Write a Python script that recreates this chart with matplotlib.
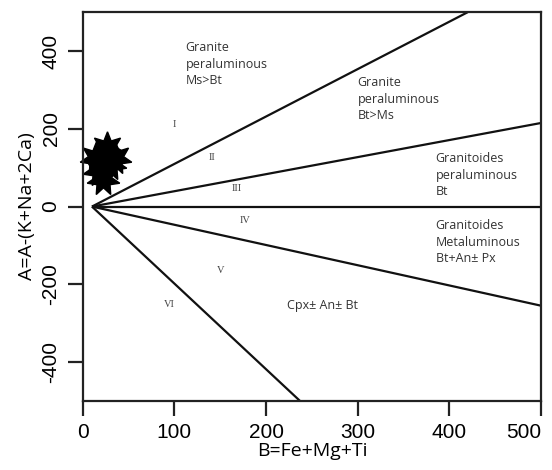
import matplotlib.pyplot as plt
import numpy as np

# boundary lines, all starting from the common origin
origin = (10, 0)
line_ends_b = [420, 500, 500, 500, 237]
line_ends_a = [500, 215, 0, -255, -500]

# sample points (stars)
star_b = [26, 30, 18, 22, 35, 14]
star_a = [150, 110, 95, 70, 125, 125]

# field labels
field_text = ["Granite\nperaluminous\nMs>Bt",
              "Granite\nperaluminous\nBt>Ms",
              "Granitoides\nperaluminous\nBt",
              "Granitoides\nMetaluminous\nBt+An\u00b1 Px",
              "Cpx\u00b1 An\u00b1 Bt"]
field_b = [112, 300, 385, 385, 223]
field_a = [425, 335, 140, -32, -255]

roman = ["I", "II", "III", "IV", "V", "VI"]
roman_b = [100, 141, 168, 177, 150, 94]
roman_a = [210, 126, 46, -36, -165, -253]

fig = plt.figure(figsize=(5.52, 4.7), dpi=100)
ax = fig.add_axes([0.150, 0.147, 0.830, 0.827])

for b, a in zip(line_ends_b, line_ends_a):
  ax.plot([origin[0], b], [origin[1], a], color='#111111', lw=1.6, solid_capstyle='butt')

ax.plot(star_b, star_a, linestyle='none', marker=(7, 1, 0), markersize=24,
        color='black', clip_on=False)

for t, b, a in zip(field_text, field_b, field_a):
  ax.text(b, a, t, fontsize=9, family='Open Sans', color='#333333',
          va='top' if '\n' in t else 'center', ha='left', linespacing=1.35)

for t, b, a in zip(roman, roman_b, roman_a):
  ax.text(b, a, t, fontsize=7.5, family='Liberation Serif', color='#444444',
          ha='center', va='center')

ax.set_xlim(0, 500)
ax.set_ylim(-500, 500)
ax.set_xticks([0, 100, 200, 300, 400, 500])
ax.set_yticks([-400, -200, 0, 200, 400])
ax.set_yticklabels(['-400', '-200', '0', '200', '400'], rotation=90, va='center')
ax.tick_params(direction='out', length=11, width=1.6, color='#222222', labelsize=15, pad=5)
for lab in ax.get_xticklabels() + ax.get_yticklabels():
  lab.set_family('Liberation Sans')
ax.get_xticklabels()[-1].set_horizontalalignment('right')
ax.get_xticklabels()[-1].set_x(0)
for s in ax.spines.values():
  s.set_linewidth(1.6)
  s.set_color('#222222')

ax.set_xlabel('B=Fe+Mg+Ti', fontsize=14, family='Open Sans', labelpad=0)
ax.set_ylabel('A=A-(K+Na+2Ca)', fontsize=14, family='Open Sans', labelpad=4)

plt.savefig('out.png', dpi=100)
